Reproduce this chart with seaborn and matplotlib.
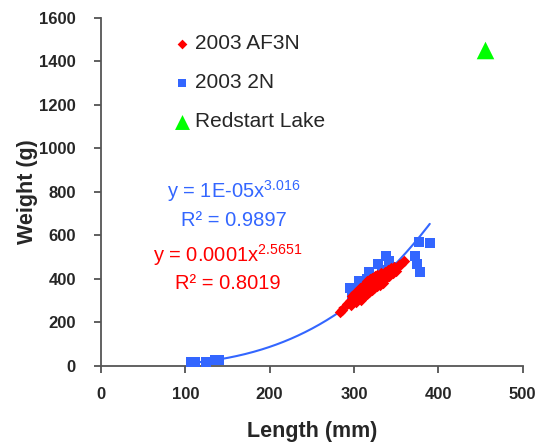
import numpy as np
import pandas as pd
import matplotlib
matplotlib.use("Agg")
import matplotlib.pyplot as plt
import seaborn as sns

# ---- data ----
af3n_length = [283, 286, 292, 295, 297, 298, 300, 301, 302, 303, 305, 306, 307, 308,
               309, 310, 311, 312, 313, 314, 315, 316, 317, 318, 319, 320, 321, 322,
               323, 324, 325, 326, 327, 328, 330, 331, 332, 334, 335, 337, 338, 340,
               342, 344, 346, 348, 350, 353, 356, 359]
af3n_weight = [248, 258, 285, 300, 282, 322, 300, 335, 312, 292, 342, 318, 358, 328,
               305, 362, 338, 320, 375, 350, 330, 388, 362, 340, 398, 372, 348, 402,
               380, 356, 412, 386, 365, 418, 392, 372, 428, 400, 382, 432, 405, 440,
               412, 448, 425, 455, 438, 462, 470, 480]

n2_length = [107, 112, 125, 135, 140, 295, 298, 303, 306, 310, 315, 318, 322, 325,
             329, 333, 338, 342, 345, 372, 375, 377, 378, 390]
n2_weight = [20, 20, 18, 25, 28, 357, 330, 353, 388, 370, 400, 431, 410, 395,
             467, 440, 506, 480, 455, 506, 467, 567, 431, 565]

redstart_length = [455]
redstart_weight = [1450]

# trendline from the chart label (2003 2N)
blue_coef, blue_exp = 1e-05, 3.016

RED = "#FF0000"
BLUE = "#3366FF"
GREEN = "#00FF00"

sns.set_style("ticks")
plt.rcParams["font.family"] = ["Liberation Sans", "DejaVu Sans"]
plt.rcParams["mathtext.fontset"] = "custom"
plt.rcParams["mathtext.rm"] = "Liberation Sans"
plt.rcParams["mathtext.it"] = "Liberation Sans"

df_red = pd.DataFrame({"Length": af3n_length, "Weight": af3n_weight})
df_blue = pd.DataFrame({"Length": n2_length, "Weight": n2_weight})
df_green = pd.DataFrame({"Length": redstart_length, "Weight": redstart_weight})

fig, ax = plt.subplots(figsize=(5.4, 4.44), dpi=100)
fig.subplots_adjust(left=0.187, right=0.9676, bottom=0.176, top=0.960)

# power trendlines (Excel style)
xb = np.linspace(min(n2_length), max(n2_length), 200)
ax.plot(xb, blue_coef * xb ** blue_exp, color=BLUE, lw=1.5, zorder=2)
b, log_a = np.polyfit(np.log(af3n_length), np.log(af3n_weight), 1)
xr = np.linspace(min(af3n_length), max(af3n_length), 100)
ax.plot(xr, np.exp(log_a) * xr ** b, color=RED, lw=1.5, zorder=2)

sns.scatterplot(data=df_blue, x="Length", y="Weight", ax=ax, marker="s", s=55,
                color=BLUE, edgecolor=BLUE, linewidth=0, label="2003 2N", zorder=3)
sns.scatterplot(data=df_red, x="Length", y="Weight", ax=ax, marker="D", s=34,
                color=RED, edgecolor=RED, linewidth=0, label="2003 AF3N", zorder=4)
sns.scatterplot(data=df_green, x="Length", y="Weight", ax=ax, marker="^", s=160,
                color=GREEN, edgecolor=GREEN, linewidth=0, label="Redstart Lake", zorder=4)

ax.set_xlim(0, 500)
ax.set_ylim(0, 1600)
ax.set_xticks(range(0, 501, 100))
ax.set_yticks(range(0, 1601, 200))
ax.tick_params(axis="both", direction="out", length=5, width=1.2, color="#444444",
               labelsize=12)
ax.tick_params(axis="y", pad=13)
ax.tick_params(axis="x", pad=10)
for lab in ax.get_xticklabels() + ax.get_yticklabels():
    lab.set_fontweight("bold")
for side in ["left", "bottom"]:
    ax.spines[side].set_color("#555555")
    ax.spines[side].set_linewidth(1.3)
sns.despine(ax=ax)

ax.set_xlabel("Length (mm)", fontsize=15.5, fontweight="bold", labelpad=14)
ax.set_ylabel("Weight (g)", fontsize=15.5, fontweight="bold", labelpad=1)

handles, labels = ax.get_legend_handles_labels()
order = [labels.index("2003 AF3N"), labels.index("2003 2N"), labels.index("Redstart Lake")]
ax.legend([handles[i] for i in order], [labels[i] for i in order],
          loc="upper left", bbox_to_anchor=(0.124, 1.006), frameon=False,
          fontsize=15, labelspacing=0.95, handletextpad=0.1, handlelength=1.0,
          markerscale=0.85)

ax.text(158, 805, r"y = 1E-05x$^{3.016}$", color=BLUE, fontsize=14.5,
        ha="center", va="center")
ax.text(158, 668, "R² = 0.9897", color=BLUE, fontsize=14.5, ha="center", va="center")
ax.text(150, 508, r"y = 0.0001x$^{2.5651}$", color=RED, fontsize=14.5,
        ha="center", va="center")
ax.text(150, 378, "R² = 0.8019", color=RED, fontsize=14.5, ha="center", va="center")

fig.savefig("out.png", dpi=100)
